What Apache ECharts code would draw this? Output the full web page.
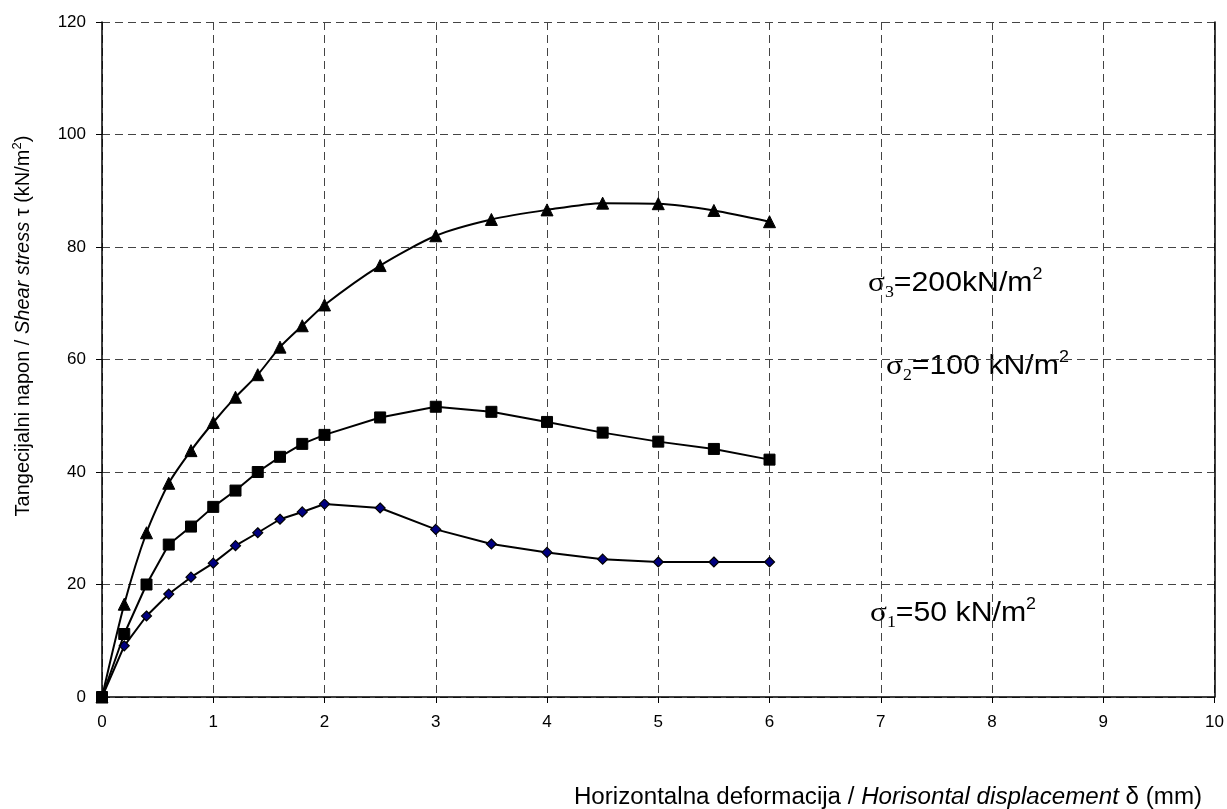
<!DOCTYPE html>
<html>
<head>
<meta charset="utf-8">
<script src="https://cdn.jsdelivr.net/npm/echarts@6/dist/echarts.min.js"></script>
<style>
html,body{margin:0;padding:0;background:#fff;}
#chart{width:1227px;height:809px;}
</style>
</head>
<body>
<div id="chart"></div>
<script>
// Horizontal displacement δ (mm)
var displacement = [0, 0.2, 0.4, 0.6, 0.8, 1.0, 1.2, 1.4, 1.6, 1.8, 2.0, 2.5, 3.0, 3.5, 4.0, 4.5, 5.0, 5.5, 6.0];
// Shear stress τ (kN/m²) for each normal stress
var sigma1_50 = [0, 9.1, 14.4, 18.3, 21.3, 23.8, 26.9, 29.2, 31.6, 32.9, 34.3, 33.6, 29.8, 27.2, 25.7, 24.5, 24.0, 24.0, 24.0];
var sigma2_100 = [0, 11.2, 20.0, 27.1, 30.3, 33.8, 36.7, 40.0, 42.7, 45.0, 46.6, 49.7, 51.6, 50.7, 48.9, 47.0, 45.4, 44.1, 42.2];
var sigma3_200 = [0, 16.5, 29.2, 38.0, 43.8, 48.8, 53.3, 57.3, 62.2, 66.0, 69.7, 76.7, 82.0, 84.9, 86.6, 87.8, 87.7, 86.5, 84.5];
var xTicks = [0, 1, 2, 3, 4, 5, 6, 7, 8, 9, 10];
var yTicks = [0, 20, 40, 60, 80, 100, 120];

function pairs(xs, ys) { return xs.map(function (x, i) { return [x, ys[i]]; }); }

var chart = echarts.init(document.getElementById('chart'), null, { renderer: 'canvas' });
var FONT = 'Liberation Sans, Arial, sans-serif';
var gridLine = { show: true, lineStyle: { color: '#444', width: 1, type: [8, 5] } };

var sigRich = {
  n: { fontSize: 27, fontFamily: FONT, color: '#000', lineHeight: 34 },
  g: { fontSize: 28, fontFamily: 'Liberation Serif, serif', color: '#000', lineHeight: 34 },
  sub: { fontSize: 16, fontFamily: 'Liberation Serif, serif', color: '#000', lineHeight: 15, verticalAlign: 'bottom' },
  sup: { fontSize: 16, fontFamily: FONT, color: '#000', lineHeight: 15, verticalAlign: 'top' }
};

function sigLabel(text, x, y) {
  return {
    type: 'text', x: x, y: y, scaleX: 1.12,
    style: { text: text, align: 'left', verticalAlign: 'middle', rich: sigRich }
  };
}

var option = {
  backgroundColor: '#fff',
  animation: false,
  grid: { left: 102, right: 12, top: 22, bottom: 112, containLabel: false },
  xAxis: {
    type: 'value', min: xTicks[0], max: xTicks[xTicks.length - 1], interval: 1,
    axisLine: { show: true, onZero: false, lineStyle: { color: '#000', width: 1.5 } },
    axisTick: { show: true, length: 6, lineStyle: { color: '#000' } },
    axisLabel: { color: '#000', fontSize: 17, fontFamily: FONT, margin: 17 },
    splitLine: gridLine
  },
  yAxis: [{
    type: 'value', min: yTicks[0], max: yTicks[yTicks.length - 1], interval: 20,
    axisLine: { show: true, onZero: false, lineStyle: { color: '#000', width: 1.5 } },
    axisTick: { show: true, length: 6, lineStyle: { color: '#000' } },
    axisLabel: { color: '#000', fontSize: 17, fontFamily: FONT, margin: 16 },
    splitLine: gridLine
  }, {
    type: 'value', position: 'right', min: yTicks[0], max: yTicks[yTicks.length - 1], interval: 20,
    axisLine: { show: true, onZero: false, lineStyle: { color: '#000', width: 1.5 } },
    axisTick: { show: false }, axisLabel: { show: false }, splitLine: { show: false }
  }],
  series: [{
    name: 'σ1=50 kN/m2', type: 'line', data: pairs(displacement, sigma1_50),
    symbol: 'diamond', symbolSize: 10, z: 3,
    lineStyle: { color: '#000', width: 2 },
    itemStyle: { color: '#000080', borderColor: '#000', borderWidth: 1.2 }
  }, {
    name: 'σ3=200kN/m2', type: 'line', data: pairs(displacement, sigma3_200), smooth: 0.25,
    symbol: 'triangle', symbolSize: 12, z: 4,
    lineStyle: { color: '#000', width: 2 },
    itemStyle: { color: '#000', borderColor: '#000', borderWidth: 1 }
  }, {
    name: 'σ2=100 kN/m2', type: 'line', data: pairs(displacement, sigma2_100),
    symbol: 'rect', symbolSize: 11, z: 5,
    lineStyle: { color: '#000', width: 2 },
    itemStyle: { color: '#000', borderColor: '#000', borderWidth: 1 }
  }],
  graphic: [
    sigLabel('{g|σ}{sub|3}{n|=200kN/m}{sup|2}', 868, 284),
    sigLabel('{g|σ}{sub|2}{n|=100 kN/m}{sup|2}', 886, 367),
    sigLabel('{g|σ}{sub|1}{n|=50 kN/m}{sup|2}', 870, 614),
    {
      type: 'text', x: 888, y: 798, scaleX: 1.05,
      style: {
        text: '{n|Horizontalna deformacija / }{i|Horisontal displacement}{n| δ (mm)}',
        align: 'center', verticalAlign: 'middle',
        rich: {
          n: { fontSize: 23, fontFamily: FONT, color: '#000' },
          i: { fontSize: 23, fontFamily: FONT, fontStyle: 'italic', color: '#000' }
        }
      }
    }, {
      type: 'text', x: 23, y: 326, rotation: Math.PI / 2,
      style: {
        text: '{n|Tangecijalni napon / }{i|Shear stress}{n| τ (kN/m}{s|2}{n|)}',
        align: 'center', verticalAlign: 'middle',
        rich: {
          n: { fontSize: 20, fontFamily: FONT, color: '#000', lineHeight: 24 },
          i: { fontSize: 20, fontFamily: FONT, fontStyle: 'italic', color: '#000', lineHeight: 24 },
          s: { fontSize: 13, fontFamily: FONT, color: '#000', lineHeight: 12, verticalAlign: 'top' }
        }
      }
    }
  ]
};
chart.setOption(option);
</script>
</body>
</html>
